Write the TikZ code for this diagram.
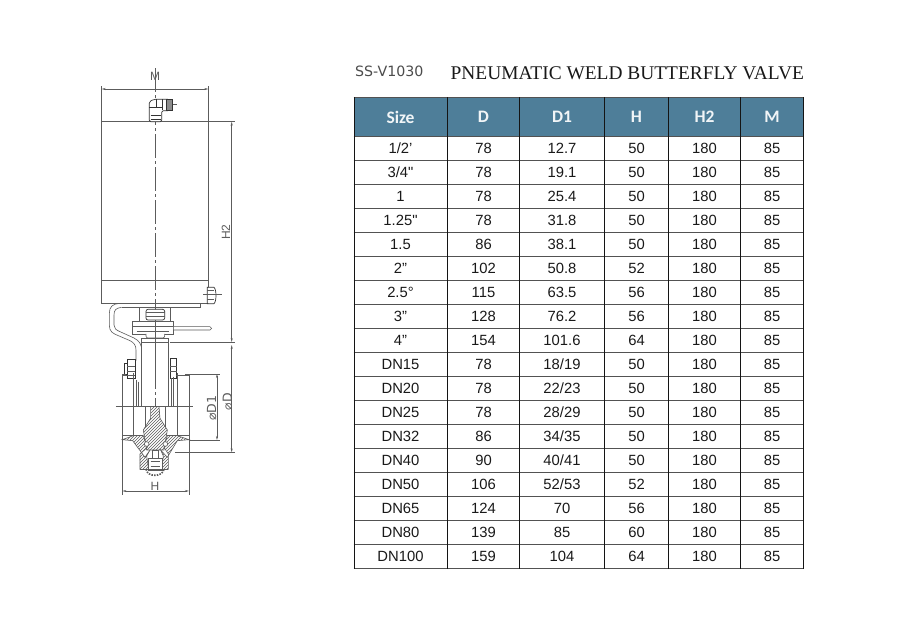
\documentclass[tikz,border=0pt]{standalone}
\usepackage{fontspec}
\setmainfont{Liberation Sans}
\newfontfamily\cellF{Liberation Sans}
\newfontfamily\serifT{Liberation Serif}
\newfontfamily\headF{Carlito}
\newfontfamily\codeF{DejaVu Sans}
\usetikzlibrary{patterns,arrows.meta}
\definecolor{headblue}{HTML}{4E7E99}
\definecolor{inkline}{gray}{0.36}
\tikzset{
  cell/.style={inner sep=0pt,font=\cellF\fontsize{14.8}{16}\selectfont,text=black!90,anchor=center},
  headcell/.style={inner sep=0pt,font=\headF\bfseries\fontsize{17.5}{19}\selectfont,text=white!92!headblue,anchor=center},
  hgrid/.style={line width=1.2pt,draw=black!68},
  vgrid/.style={line width=1pt,draw=black!92},
  part/.style={draw=inkline,line width=0.6pt},
  thin part/.style={draw=inkline,line width=0.45pt},
  dark part/.style={draw=black!80,line width=0.7pt},
  centre/.style={draw=inkline,line width=0.5pt,dash pattern=on 24pt off 3pt on 3pt off 3pt},
  dimline/.style={draw=inkline,line width=0.5pt},
  dimarrow/.style={draw=inkline,line width=0.5pt,{Stealth[length=4pt,width=2pt]}-{Stealth[length=4pt,width=2pt]}},
  hatch/.style={part,pattern=north east lines,pattern color=inkline},
  dimtext/.style={inner sep=0pt,text=inkline,font=\fontsize{12}{14}\selectfont},
  dimsym/.style={inner sep=0pt,text=inkline,font=\codeF\fontsize{12.5}{14}\selectfont}
}
\newcommand{\trow}[7]{%
  \node[cell] (s#1) at (400.5,{148.7+24*#1}) {#2};
  \node[cell] (d#1) at (483.5,{148.7+24*#1}) {#3};
  \node[cell] (e#1) at (562,{148.7+24*#1}) {#4};
  \node[cell] (h#1) at (636.5,{148.7+24*#1}) {#5};
  \node[cell] (i#1) at (704.5,{148.7+24*#1}) {#6};
  \node[cell] (m#1) at (772,{148.7+24*#1}) {#7};
}
\begin{document}
\begin{tikzpicture}[x=1pt,y=-1pt]
\useasboundingbox (0,0) rectangle (907,624);
\fill[white] (0,0) rectangle (907,624);

% titles
\node[inner sep=0pt,anchor=west,text=black!70,font=\codeF\fontsize{14.2}{16}\selectfont] (code) at (355,71) {SS-V1030};
\node[inner sep=0pt,anchor=west,text=black!90,font=\serifT\fontsize{19.4}{21}\selectfont] (title) at (450.5,73) {PNEUMATIC WELD BUTTERFLY VALVE};

% table header
\fill[headblue] (354,97.3) rectangle (804,136.7);
\node[headcell] (hsize) at (400.5,117) {Size};
\node[headcell] (hd) at (483.5,117) {D};
\node[headcell] (hdone) at (562,117) {D1};
\node[headcell] (hh) at (636.5,117) {H};
\node[headcell] (hhtwo) at (704.5,117) {H2};
\node[headcell] (hm) at (772,117) {M};

% table grid
\foreach \r in {0,...,18} \draw[hgrid] (353.6,{136.7+24*\r}) -- (804,{136.7+24*\r});
\draw[hgrid] (353.6,97.3) -- (804,97.3);
\foreach \c in {354,447.4,519.4,604.4,668.4,740.4,803.6} \draw[vgrid] (\c,97.3) -- (\c,568.7);

% table rows
\trow{0}{1/2’}{78}{12.7}{50}{180}{85}
\trow{1}{3/4"}{78}{19.1}{50}{180}{85}
\trow{2}{1}{78}{25.4}{50}{180}{85}
\trow{3}{1.25"}{78}{31.8}{50}{180}{85}
\trow{4}{1.5}{86}{38.1}{50}{180}{85}
\trow{5}{2”}{102}{50.8}{52}{180}{85}
\trow{6}{2.5°}{115}{63.5}{56}{180}{85}
\trow{7}{3”}{128}{76.2}{56}{180}{85}
\trow{8}{4”}{154}{101.6}{64}{180}{85}
\trow{9}{DN15}{78}{18/19}{50}{180}{85}
\trow{10}{DN20}{78}{22/23}{50}{180}{85}
\trow{11}{DN25}{78}{28/29}{50}{180}{85}
\trow{12}{DN32}{86}{34/35}{50}{180}{85}
\trow{13}{DN40}{90}{40/41}{50}{180}{85}
\trow{14}{DN50}{106}{52/53}{52}{180}{85}
\trow{15}{DN65}{124}{70}{56}{180}{85}
\trow{16}{DN80}{139}{85}{60}{180}{85}
\trow{17}{DN100}{159}{104}{64}{180}{85}

% actuator
\draw[part] (101.7,121.7) rectangle (208.6,303.3);
\draw[part] (101.7,280) -- (208.6,280);
\draw[centre] (155,68) -- (155,407);

% dimension M
\node[dimtext] (lm) at (155,76) {M};
\draw[dimline] (101.7,86) -- (101.7,121.7);
\draw[dimline] (208.3,86) -- (208.3,121.7);
\draw[dimarrow] (101.7,89) -- (208.3,89);

% dimension H2
\draw[dimline] (209,121.7) -- (235,121.7);
\draw[dimline] (170,342) -- (235,342);
\draw[dimarrow] (231.7,121.7) -- (231.7,342);
\node[dimtext,rotate=90] (lh) at (226,232) {H2};

% elbow fitting
\begin{scope}[shift={(80,60)},x=0.3333pt,y=-0.3333pt]
\draw[dark part,fill=white,rounded corners=1.5pt] (208,185) -- (208,125) -- (222,118) -- (268,118) -- (268,152) -- (245,152) -- (245,185) -- cycle;
\draw[dark part,fill=black!45] (258,118) rectangle (278,150);
\draw[dark part] (208,142) -- (245,142) (228,118) -- (228,142) (248,118) -- (248,150) (212,165) -- (242,165) (212,178) -- (242,178);
\draw[thin part] (278,134) -- (291,134);
\end{scope}

% bracket, nut, lever
\begin{scope}[shift={(90,270)},x=0.3333pt,y=-0.3333pt]
\draw[part] (88,100) .. controls (68,102) and (58,110) .. (58,130) -- (58,165) .. controls (58,185) and (68,190) .. (85,197) -- (120,212) .. controls (132,218) and (138,226) .. (138,240) -- (138,272);
\draw[part] (95,112) .. controls (78,114) and (72,120) .. (72,135) -- (72,165) .. controls (72,175) and (78,180) .. (90,185) -- (132,204) .. controls (148,212) and (155,224) .. (155,240);
\draw[part] (95,112) -- (332,112) -- (332,100);
\draw[part] (148,112) -- (148,155) (240,112) -- (240,155);
% bolt at the actuator
\draw[dark part,fill=white] (352,52) -- (372,52) .. controls (380,58) and (380,95) .. (372,101) -- (352,101) -- cycle;
\draw[thin part] (340,73) -- (396,73) (352,62) -- (372,62) (352,88) -- (372,88);
% nut
\draw[dark part,fill=white,rounded corners=2pt] (168,118) rectangle (224,150);
\draw[thin part] (168,128) -- (224,128) (168,140) -- (224,140);
% lever block
\draw[part,fill=white] (128,155) rectangle (250,192);
\draw[thin part] (128,168) -- (250,168) (140,183) -- (238,183);
\draw[part,fill=white] (250,170) -- (360,170) -- (365,175) -- (360,180) -- (250,180) -- cycle;
% collar and neck
\draw[part,fill=white,rounded corners=2pt] (168,192) -- (168,204) -- (224,204) -- (224,192);
\draw[part] (155,204) rectangle (236,216);
\draw[part] (155,216) -- (155,330) (236,216) -- (236,330);
\draw[centre] (195,150) -- (195,330);
% bolts
\draw[dark part,fill=white] (112,268) rectangle (136,325);
\draw[dark part,fill=white] (103,280) rectangle (112,312);
\draw[thin part] (112,290) -- (136,290) (112,305) -- (136,305);
\draw[dark part,fill=white] (240,265) rectangle (260,325);
\draw[thin part] (240,288) -- (260,288) (240,305) -- (260,305);
\draw[part] (97,315) -- (135,315) (258,315) -- (297,315);
\end{scope}

% body section
\begin{scope}[shift={(90,370)},x=0.3333pt,y=-0.3333pt]
\draw[part] (97,12) -- (97,210) (297,12) -- (297,210);
\draw[part] (97,12) -- (108,12) (285,12) -- (297,12);
\draw[part] (78,108) -- (310,108);
\draw[part] (130,10) -- (130,195) (262,10) -- (262,195);
\draw[part] (138,30) -- (138,108) (155,30) -- (155,108);
\draw[part] (235,20) -- (235,108) (250,20) -- (250,108);
\draw[part] (144,35) -- (144,108) (243,25) -- (243,108);
\draw[part] (165,108) -- (165,170) (225,108) -- (225,170);
\draw[part] (97,195) -- (160,195) (232,195) -- (297,195);
% lower clamps
\draw[hatch] (97,209) -- (130,197) -- (160,197) -- (172,232) -- (150,252) -- (150,298) -- (176,298) -- (170,258) -- (180,240) -- (165,262) -- (128,212) -- cycle;
\draw[hatch] (297,209) -- (262,197) -- (232,197) -- (222,232) -- (235,252) -- (235,298) -- (215,298) -- (220,258) -- (212,240) -- (232,262) -- (262,212) -- cycle;
% disc
\draw[hatch] (182,110) -- (207,110) -- (210,145) -- (232,180) -- (222,240) -- (170,240) -- (160,180) -- (182,145) -- cycle;
% seals
\draw[part,fill=white] (170,222) circle (7);
\draw[part,fill=white] (226,222) circle (7);
% lower stem
\draw[part,fill=white] (187,240) rectangle (205,265);
\draw[part,fill=white] (175,265) rectangle (217,300);
\draw[thin part] (182,275) -- (210,275) (182,288) -- (210,288);
% bottom cap
\draw[part,line width=1.6pt,dash pattern=on 1.5pt off 1.2pt] (168,298) .. controls (172,322) and (218,322) .. (222,298);
\draw[part] (150,298) -- (235,298);
% dimension D1
\draw[dimline] (297,12) -- (390,12) (297,210) -- (390,210);
\draw[dimarrow] (381,12) -- (381,210);
\node[dimsym,rotate=90] (ld1) at (365,115) {⌀D1};
% dimension D
\draw[dimline] (255,247) -- (435,247);
\node[dimsym,rotate=90] (ld) at (412,95) {⌀D};
% dimension H
\draw[dimline] (97,210) -- (97,375) (297,210) -- (297,375);
\draw[dimarrow] (97,363) -- (297,363);
\node[dimtext] (lhh) at (195,349) {H};
\end{scope}
\draw[dimarrow] (231.7,345) -- (231.7,452.3);
\end{tikzpicture}
\end{document}
